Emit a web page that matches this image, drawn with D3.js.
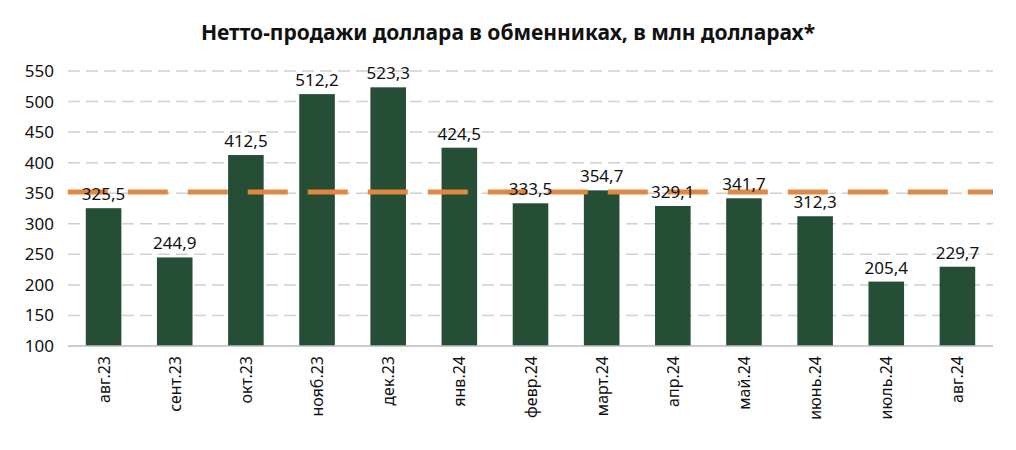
<!DOCTYPE html>
<html><head><meta charset="utf-8">
<script src="https://cdn.jsdelivr.net/npm/d3@7"></script>
<style>body{margin:0;background:#fff}text{font-family:"Noto Sans",sans-serif}</style>
</head><body><svg id="c" width="1016" height="450"></svg>
<script>
var categories = ['авг.23','сент.23','окт.23','нояб.23','дек.23','янв.24','февр.24','март.24','апр.24','май.24','июнь.24','июль.24','авг.24'];
var values = [325.5,244.9,412.5,512.2,523.3,424.5,333.5,354.7,329.1,341.7,312.3,205.4,229.7];
var average = [352];
var yTicks = [100,150,200,250,300,350,400,450,500,550];

var svg = d3.select('#c');
var x = d3.scaleBand().domain(categories).range([68, 993]).paddingInner(0.5).paddingOuter(0.25);
var y = d3.scaleLinear().domain([100, 550]).range([346, 71]);

svg.append('text').attr('x', 508).attr('y', 40).attr('text-anchor', 'middle')
	.attr('font-size', 21).attr('font-weight', 700).attr('fill', '#111')
	.text('Нетто-продажи доллара в обменниках, в млн долларах*');

// grid
svg.selectAll('.grid').data(yTicks.slice(1)).enter().append('line')
	.attr('x1', 68).attr('x2', 993).attr('y1', function(d){return y(d);}).attr('y2', function(d){return y(d);})
	.attr('stroke', '#d0d0d0').attr('stroke-width', 1.5).attr('stroke-dasharray', '12,6');

svg.selectAll('.yl').data(yTicks).enter().append('text')
	.attr('x', 54).attr('y', function(d){return y(d) + 6;}).attr('text-anchor', 'end')
	.attr('font-size', 17).attr('fill', '#111').text(function(d){return d;});

svg.selectAll('.bar').data(values).enter().append('rect')
	.attr('x', function(d, i){return x(categories[i]);}).attr('width', x.bandwidth())
	.attr('y', function(d){return y(d);}).attr('height', function(d){return y(100) - y(d);})
	.attr('fill', '#264e37');

svg.append('line').attr('x1', 68).attr('x2', 993).attr('y1', y(100)).attr('y2', y(100))
	.attr('stroke', '#bbb').attr('stroke-width', 1.5);

svg.selectAll('.avg').data(average).enter().append('line')
	.attr('x1', x(categories[0]) - 18).attr('x2', 993).attr('y1', function(d){return y(d);}).attr('y2', function(d){return y(d);})
	.attr('stroke', '#e08840').attr('stroke-width', 5).attr('stroke-dasharray', '40,20');

svg.selectAll('.vl').data(values).enter().append('text')
	.attr('x', function(d, i){return x(categories[i]) + x.bandwidth() / 2;})
	.attr('y', function(d){return y(d) - 8;}).attr('text-anchor', 'middle')
	.attr('font-size', 17).attr('fill', '#111').text(function(d){return String(d).replace('.', ',');});

svg.selectAll('.xl').data(categories).enter().append('text')
	.attr('transform', function(d){return 'translate(' + (x(d) + x.bandwidth() / 2 + 6) + ',356) rotate(-90)';})
	.attr('text-anchor', 'end').attr('font-size', 16).attr('fill', '#111').text(function(d){return d;});
</script></body></html>
